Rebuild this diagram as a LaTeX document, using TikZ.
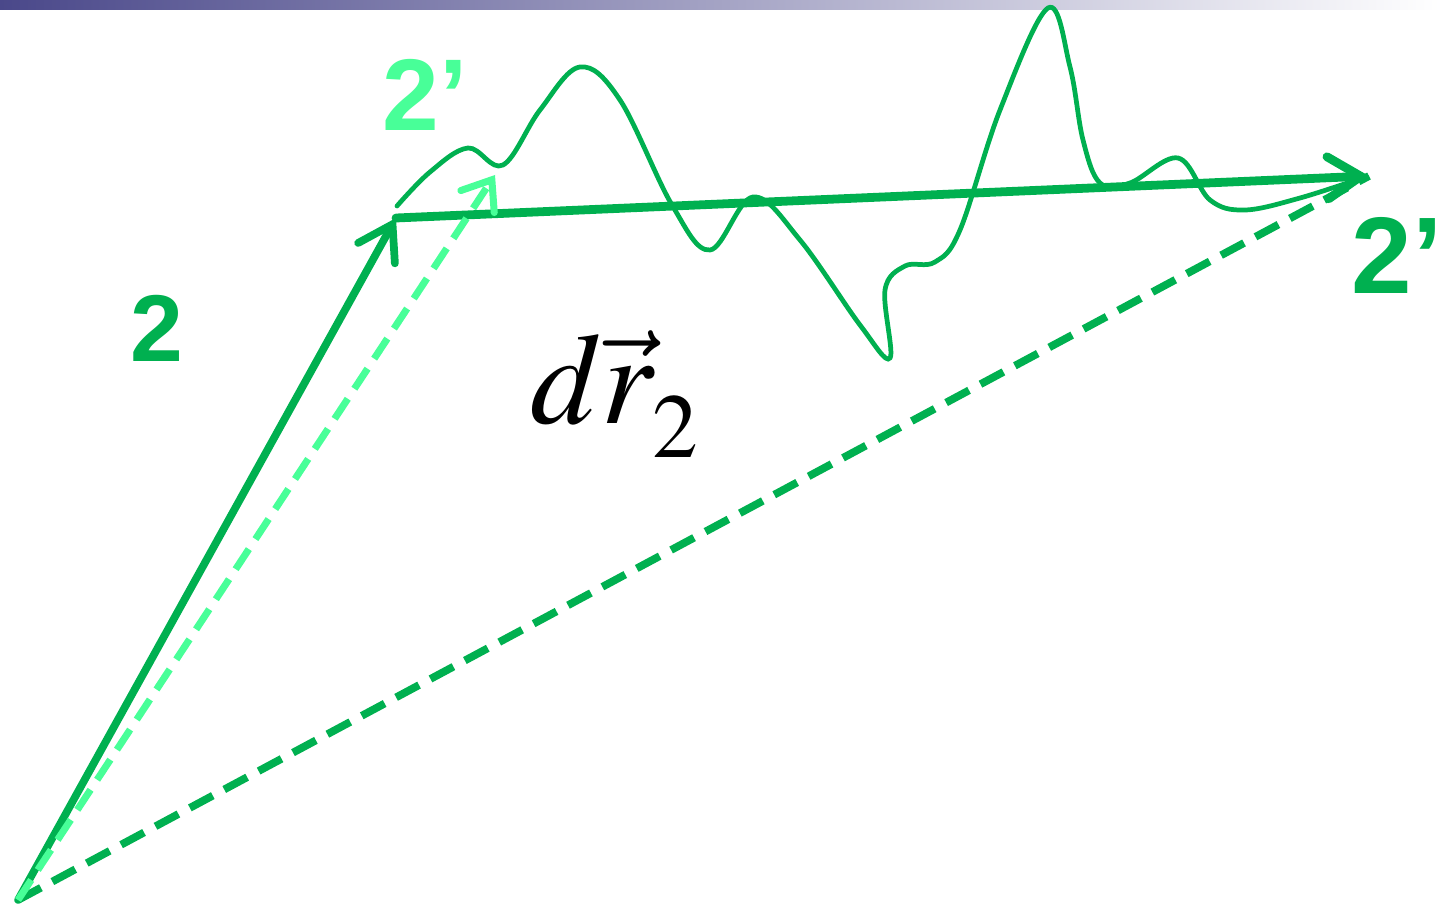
\documentclass[tikz,border=0pt]{standalone}
\usepackage{mathptmx}
\usepackage[no-math]{fontspec}
\newfontfamily\lblfont{Liberation Sans}
\usepackage{xcolor}
\usepackage{tikz}
\usetikzlibrary{arrows.meta,positioning}
\DeclareMathSizes{37}{37}{26}{20}

\definecolor{vecgreen}{RGB}{0,176,80}
\definecolor{lightvec}{RGB}{72,255,152}
\definecolor{barblue}{RGB}{74,72,138}

\begin{document}
\begin{tikzpicture}[
    vec/.style={draw=vecgreen, line width=2.2pt, line cap=round,
      -{Straight Barb[length=3.3mm, width=4.2mm, line cap=round]}},
    dashvec/.style={draw=vecgreen, line width=2.2pt, dash pattern=on 0.26cm off 0.13cm},
    lightdash/.style={draw=lightvec, line width=2pt, dash pattern=on 0.24cm off 0.12cm,
      -{Straight Barb[length=2.6mm, width=4mm, line cap=round]}},
    wiggle/.style={draw=vecgreen, line width=1.35pt, line cap=round},
    lbl/.style={font=\lblfont\bfseries\fontsize{#1}{#1}\selectfont, inner sep=0pt}
  ]
    \useasboundingbox (0,0) rectangle (14.43,9.06);
    \shade[left color=barblue, middle color={rgb,255:red,198;green,199;blue,215}, right color=white]
      (0,8.96) rectangle (14.43,9.06);

    \coordinate (O) at (0.18,0.06);
    \coordinate (A) at (3.96,6.88);
    \coordinate (B) at (13.69,7.30);
    \coordinate (C) at (4.95,7.31);

    % vectors
    \draw[vec] (O) -- (A);
    \draw[vec, line width=2.5pt] (A) -- (B);
    \draw[dashvec] (O) -- (B);
    \draw[lightdash] (O) -- (C);

    % the real path
    \draw[wiggle] plot[smooth, tension=0.6] coordinates {
      (3.97,7.00) (4.30,7.34) (4.68,7.58) (5.03,7.41) (5.40,7.96) (5.80,8.39)
      (6.20,8.06) (6.72,7.01) (7.10,6.56) (7.53,7.09) (8.00,6.66) (8.60,5.81)
      (8.90,5.48) (8.85,6.16) (9.05,6.40) (9.35,6.44) (9.60,6.76) (10.00,7.96)
      (10.48,8.98) (10.70,8.39) (10.83,7.66) (11.00,7.23) (11.30,7.23) (11.78,7.48)
      (12.10,7.06) (12.45,6.96) (13.00,7.08) (13.62,7.28)};

    % labels
    \node[lbl=27, text=vecgreen] (two) at (1.57,5.78) {2};
    \node[lbl=29, text=lightvec] (twoA) at (4.25,8.11) {2’};
    \node[lbl=31, text=vecgreen] (twoB) at (13.97,6.51) {2’};
    \node[inner sep=0pt, font=\fontsize{37}{37}\selectfont] (dr) at (6.15,5.12)
      {$d\vec{r}_{\lower4pt\hbox{$\scriptstyle 2$}}$};
\end{tikzpicture}
\end{document}
